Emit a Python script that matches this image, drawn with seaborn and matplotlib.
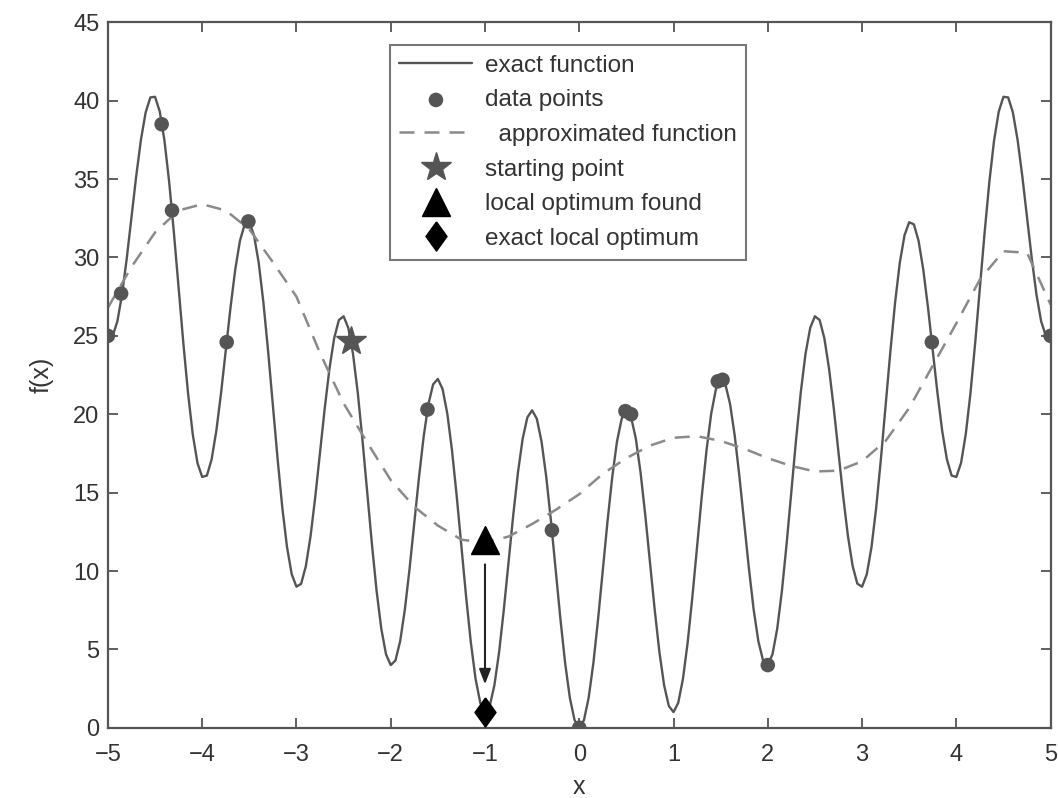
import numpy as np
import pandas as pd
import matplotlib
matplotlib.use('Agg')
import matplotlib.pyplot as plt
import seaborn as sns

exact_y = [25.00, 24.99, 25.92, 27.64, 29.95, 32.56, 35.18, 37.50, 39.25, 40.21,
           40.25, 39.31, 37.45, 34.80, 31.58, 28.06, 24.55, 21.34, 18.72, 16.89,
           16.00, 16.09, 17.12, 18.94, 21.35, 24.06, 26.78, 29.20, 31.05, 32.11,
           32.25, 31.41, 29.65, 27.10, 23.98, 20.56, 17.15, 14.04, 11.52, 9.79,
           9.00, 9.19, 10.32, 12.24, 14.75, 17.56, 20.38, 22.90, 24.85, 26.01,
           26.25, 25.51, 23.85, 21.40, 18.38, 15.06, 11.75, 8.74, 6.32, 4.69,
           4.00, 4.29, 5.52, 7.54, 10.15, 13.06, 15.98, 18.60, 20.65, 21.91,
           22.25, 21.61, 20.05, 17.70, 14.78, 11.56, 8.35, 5.44, 3.12, 1.59,
           1.00, 1.39, 2.72, 4.84, 7.55, 10.56, 13.58, 16.30, 18.45, 19.81,
           20.25, 19.71, 18.25, 16.00, 13.18, 10.06, 6.95, 4.14, 1.92, 0.49,
           0.00,
           0.49, 1.92, 4.14, 6.95, 10.06, 13.18, 16.00, 18.25, 19.71, 20.25,
           19.81, 18.45, 16.30, 13.58, 10.56, 7.55, 4.84, 2.72, 1.39, 1.00,
           1.59, 3.12, 5.44, 8.35, 11.56, 14.78, 17.70, 20.05, 21.61, 22.25,
           21.91, 20.65, 18.60, 15.98, 13.06, 10.15, 7.54, 5.52, 4.29, 4.00,
           4.69, 6.32, 8.74, 11.75, 15.06, 18.38, 21.40, 23.85, 25.51, 26.25,
           26.01, 24.85, 22.90, 20.38, 17.56, 14.75, 12.24, 10.32, 9.19, 9.00,
           9.79, 11.52, 14.04, 17.15, 20.56, 23.98, 27.10, 29.65, 31.41, 32.25,
           32.11, 31.05, 29.20, 26.78, 24.06, 21.35, 18.94, 17.12, 16.09, 16.00,
           16.89, 18.72, 21.34, 24.55, 28.06, 31.58, 34.80, 37.45, 39.31, 40.25,
           40.21, 39.25, 37.50, 35.18, 32.56, 29.95, 27.64, 25.92, 24.99, 25.00]
exact_x = np.linspace(-5, 5, len(exact_y))

# approximated (surrogate) function, read every 0.25
approx_x = [-5, -4.75, -4.5, -4.25, -4, -3.75, -3.5, -3.25, -3, -2.75, -2.5,
            -2.25, -2, -1.75, -1.5, -1.25, -1, -0.75, -0.5, -0.25, 0,
            0.25, 0.5, 0.75, 1, 1.25, 1.5, 1.75, 2, 2.25, 2.5,
            2.75, 3, 3.25, 3.5, 3.75, 4, 4.25, 4.5, 4.75, 5]
approx_y = [26.8, 29.4, 31.6, 33.0, 33.4, 33.0, 31.8, 29.7, 27.5, 23.9, 20.7,
            18.2, 15.8, 14.1, 12.9, 12.0, 11.8, 12.2, 13.0, 13.9, 14.9,
            16.2, 17.2, 18.0, 18.5, 18.6, 18.3, 17.8, 17.2, 16.7, 16.35,
            16.4, 17.0, 18.3, 20.4, 23.1, 25.8, 28.6, 30.4, 30.3, 27.0]

# sampled data points
pts_x = [-5, -4.86, -4.43, -4.32, -3.74, -3.51, -1.61, -0.29, 0, 0.49, 0.55,
         1.47, 1.52, 2.0, 3.74, 5]
pts_y = [25.0, 27.7, 38.5, 33.0, 24.6, 32.3, 20.3, 12.6, 0.0, 20.2, 20.0,
         22.1, 22.2, 4.0, 24.6, 25.0]

start_pt = (-2.42, 24.7)
found_opt = (-1.0, 12.0)
exact_opt = (-1.0, 1.0)

sns.set_style('ticks')
plt.rcParams['font.family'] = ['Liberation Sans', 'DejaVu Sans']

fig = plt.figure(figsize=(10.58, 7.98), dpi=100)
ax = fig.add_axes([0.102, 0.088, 0.891, 0.884])

tall_diamond = [(0, 1), (0.72, 0), (0, -1), (-0.72, 0), (0, 1)]

sns.lineplot(x=exact_x, y=exact_y, ax=ax, color='#555555', lw=1.7,
             label='exact function')
sns.scatterplot(x=pts_x, y=pts_y, ax=ax, color='#555555', s=110,
                edgecolor='none', label='data points', zorder=4)
sns.lineplot(x=approx_x, y=approx_y, ax=ax, color='#8a8a8a', lw=1.8,
             linestyle=(0, (6, 4)), label='  approximated function')
ax.plot(*start_pt, marker='*', color='#555555', ms=22, ls='none',
        label='starting point', zorder=5)
ax.plot(*found_opt, marker='^', color='black', ms=20, ls='none',
        label='local optimum found', zorder=5)
ax.plot(*exact_opt, marker=tall_diamond, color='black', ms=21, ls='none',
        label='exact local optimum', zorder=5)

ax.annotate('', xy=(-1.0, 2.6), xytext=(-1.0, 10.6),
            arrowprops=dict(arrowstyle='-|>,head_width=0.35,head_length=0.9',
                            color='#222222', lw=1.5))

ax.set_xlim(-5, 5)
ax.set_ylim(0, 45)
ax.set_xticks(range(-5, 6))
ax.set_yticks(range(0, 46, 5))
ax.set_xticklabels([str(v).replace('-', '\u2212') for v in range(-5, 6)])
ax.tick_params(direction='in', top=True, right=True, length=7, width=1.2,
               labelsize=17, colors='#444444', labelcolor='#333333')
ax.tick_params(axis='x', pad=12)
ax.tick_params(axis='y', pad=6)
for s in ax.spines.values():
    s.set_color('#555555')
    s.set_linewidth(1.6)
    s.set_visible(True)
ax.set_xlabel('x', fontsize=18, color='#333333', labelpad=6)
ax.set_ylabel('f(x)', fontsize=18, color='#333333', labelpad=14)

leg = ax.legend(loc='upper center', bbox_to_anchor=(0.488, 0.968), fontsize=17.5,
                frameon=True, fancybox=False, edgecolor='#555555',
                handlelength=3.0, handletextpad=0.5, labelspacing=0.52,
                borderpad=0.4, borderaxespad=0)
leg.get_frame().set_linewidth(1.5)
for t in leg.get_texts():
    t.set_color('#333333')

fig.savefig('out.png', dpi=100)
